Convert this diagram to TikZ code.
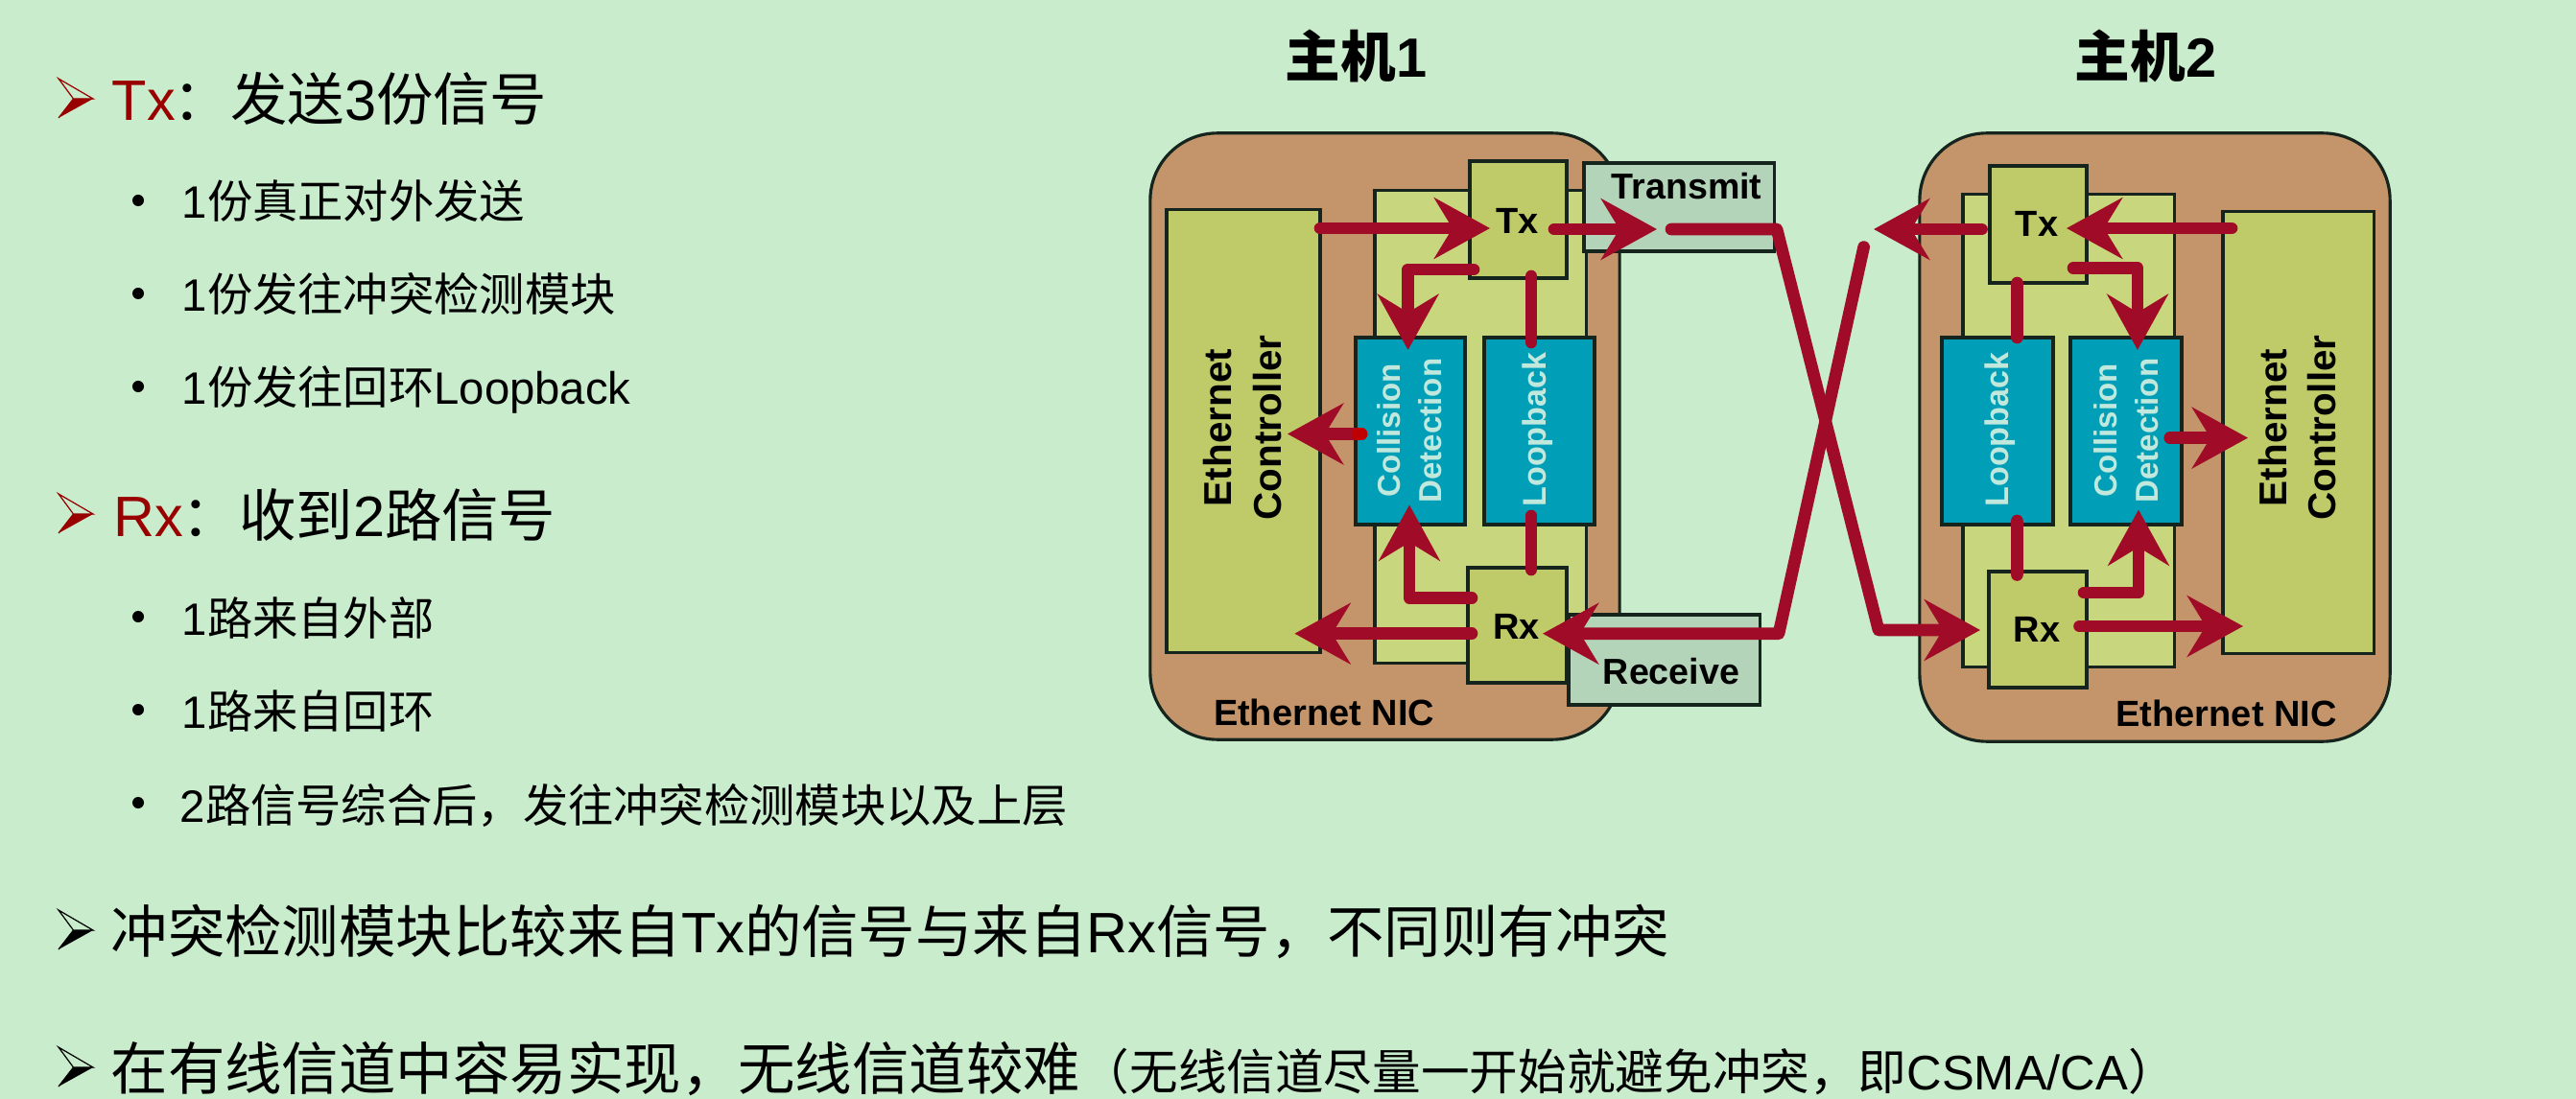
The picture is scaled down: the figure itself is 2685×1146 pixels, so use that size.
\documentclass[tikz,border=0pt]{standalone}
\usepackage{fontspec}
\setmainfont{Liberation Sans}
\newfontfamily\cjk{Noto Sans CJK SC}
\usetikzlibrary{arrows.meta}
\definecolor{bgc}{HTML}{C8ECCC}
\definecolor{nicc}{HTML}{C4956A}
\definecolor{olivec}{HTML}{BFCB68}
\definecolor{panelc}{HTML}{C8D67E}
\definecolor{bluec}{HTML}{009FB7}
\definecolor{labelc}{HTML}{C0E8DC}
\definecolor{portc}{HTML}{B4D4B9}
\definecolor{sigc}{HTML}{A00C28}
\definecolor{hotc}{HTML}{C00000}
\definecolor{edgec}{HTML}{16241E}
\definecolor{darkred}{HTML}{990000}
\tikzset{
  x=0.01cm,y=-0.01cm,
  boxx/.style={draw=edgec,line width=0.9pt,inner sep=0pt,outer sep=0pt},
  nicbox/.style={boxx,fill=nicc,rounded corners=0.7cm},
  panelbox/.style={boxx,fill=panelc},
  olivebox/.style={boxx,fill=olivec},
  bluebox/.style={boxx,fill=bluec,minimum width=1.15cm,minimum height=1.95cm},
  portbox/.style={boxx,fill=portc},
  sig/.style={draw=sigc,line width=3.6pt,line cap=round,line join=round},
  sigarrow/.style={sig,-{Stealth[length=16.5pt,width=18pt,inset=5.4pt]}},
  sighot/.style={draw=hotc,line width=3.6pt,line cap=round},
  head/.style={anchor=base west,inner sep=0pt,font=\fontsize{16.9pt}{20pt}\selectfont},
  small/.style={anchor=base west,inner sep=0pt,font=\fontsize{13.45pt}{16pt}\selectfont},
  note/.style={anchor=base west,inner sep=0pt,font=\fontsize{14.4pt}{17pt}\selectfont},
  titletext/.style={anchor=base west,inner sep=0pt,font=\fontsize{16.4pt}{19pt}\selectfont\bfseries},
  boldlabel/.style={inner sep=0pt,font=\fontsize{10.8pt}{13pt}\selectfont\bfseries},
  portlabel/.style={inner sep=0pt,font=\fontsize{10.7pt}{13pt}\selectfont\bfseries},
  ctrllabel/.style={inner sep=0pt,rotate=90,align=center,font=\fontsize{11.5pt}{14.65pt}\selectfont\bfseries},
  colllabel/.style={inner sep=0pt,rotate=90,align=center,text=labelc,font=\fontsize{9.4pt}{12.2pt}\selectfont\bfseries},
  looplabel/.style={inner sep=0pt,rotate=90,text=labelc,font=\fontsize{9.7pt}{12pt}\selectfont\bfseries},
  dotmark/.style={circle,fill=black,inner sep=0pt,minimum size=0.12cm},
  pics/pointer/.style={code={
    \fill[#1] (0,41) -- (36,21) -- (15.5,21) -- cycle;
    \draw[#1,line width=0.35pt,line join=miter] (0,0) -- (36,21) -- (15.5,21) -- cycle;
    \draw[#1,line width=0.35pt] (0,41) -- (15.5,21);
  }},
}
\newcommand\zh[1]{{\cjk #1}}
\begin{document}
\begin{tikzpicture}
\fill[bgc] (0,0) rectangle (2685,1146);
\useasboundingbox (0,0) rectangle (2685,1146);

% left text
\pic at (61,82) {pointer=darkred};
\node[head,text=darkred] (h1a) at (116,126) {Tx};
\node[head] (h1b) at (180,126) {\zh{：发送}3\zh{份信号}};
\node[dotmark] (d1) at (144,209) {};
\node[small] (t1) at (189,228) {1\zh{份真正对外发送}};
\node[dotmark] (d2) at (144,306) {};
\node[small] (t2) at (189,325) {1\zh{份发往冲突检测模块}};
\node[dotmark] (d3) at (144,403) {};
\node[small] (t3) at (189,422) {1\zh{份发往回环}Loopback};

\pic at (61,515) {pointer=darkred};
\node[head,text=darkred] (h2a) at (118,559) {Rx};
\node[head] (h2b) at (189,559) {\zh{：收到}2\zh{路信号}};
\node[dotmark] (d4) at (144,643) {};
\node[small] (t4) at (189,662) {1\zh{路来自外部}};
\node[dotmark] (d5) at (144,740) {};
\node[small] (t5) at (189,759) {1\zh{路来自回环}};
\node[dotmark] (d6) at (144,837) {};
\node[small] (t6) at (187,857) {2\zh{路信号综合后，发往冲突检测模块以及上层}};

\pic at (61,949) {pointer=black};
\node[head] (h3) at (115,993) {\zh{冲突检测模块比较来自}Tx\zh{的信号与来自}Rx\zh{信号，不同则有冲突}};
\pic at (61,1092) {pointer=black};
\node[head] (h4) at (115,1136) {\zh{在有线信道中容易实现，无线信道较难}};
\node[note] (n4) at (1126,1136) {\zh{（无线信道尽量一开始就避免冲突，即}CSMA/CA\zh{）}};

% titles
\node[titletext] (ttlA) at (1339,81) {\zh{主机}1};
\node[titletext] (ttlB) at (2162,81) {\zh{主机}2};

% host 1 boxes
\node[nicbox,minimum width=4.89cm,minimum height=6.32cm] (nicA) at (1443.5,455) {};
\node[panelbox,minimum width=2.2cm,minimum height=4.92cm] (innerA) at (1543,445) {};
\node[olivebox,minimum width=1.6cm,minimum height=4.61cm] (ctrlA) at (1296,449.5) {};
\node[olivebox,minimum width=1.01cm,minimum height=1.22cm] (txA) at (1582.5,229) {};
\node[olivebox,minimum width=1.03cm,minimum height=1.2cm] (rxA) at (1581.5,652) {};
\node[bluebox,minimum width=1.14cm] (colA) at (1470,449.5) {};
\node[bluebox] (lbA) at (1604.5,449.5) {};
\node[portbox,minimum width=1.98cm,minimum height=0.92cm] (trans) at (1750,216) {};
\node[portbox,minimum width=1.99cm,minimum height=0.94cm] (recv) at (1734.5,688) {};

% host 2 boxes
\node[nicbox,minimum width=4.9cm,minimum height=6.34cm] (nicB) at (2246,456) {};
\node[panelbox,minimum width=2.2cm,minimum height=4.92cm] (innerB) at (2156,449) {};
\node[olivebox,minimum width=1.57cm,minimum height=4.6cm] (ctrlB) at (2395.5,451) {};
\node[olivebox,minimum width=1.01cm,minimum height=1.22cm] (txB) at (2124.5,234) {};
\node[olivebox,minimum width=1.02cm,minimum height=1.21cm] (rxB) at (2124,656.5) {};
\node[bluebox,minimum width=1.16cm] (lbB) at (2082,449.5) {};
\node[bluebox,minimum width=1.16cm] (colB) at (2216,449.5) {};

% labels
\node[boldlabel] (lTxA) at (1581.5,230) {Tx};
\node[boldlabel] (lRxA) at (1580.5,653) {Rx};
\node[colllabel] (lColA) at (1469,449) {Collision\\Detection};
\node[looplabel] (lLbA) at (1603,448) {Loopback};
\node[ctrllabel] (lCtrlA) at (1295,446) {Ethernet\\Controller};
\node[portlabel] (lTrans) at (1758,194) {Transmit};
\node[portlabel] (lRecv) at (1742,700) {Receive};
\node[boldlabel] (lNicA) at (1380,743) {Ethernet NIC};
\node[boldlabel] (lTxB) at (2123,233) {Tx};
\node[boldlabel] (lRxB) at (2123,656.5) {Rx};
\node[looplabel] (lLbB) at (2084.7,448) {Loopback};
\node[colllabel] (lColB) at (2216.5,449) {Collision\\Detection};
\node[ctrllabel] (lCtrlB) at (2394.5,446) {Ethernet\\Controller};
\node[boldlabel] (lNicB) at (2320.6,744) {Ethernet NIC};

% host 1 connectors
\draw[sigarrow] ([shift={(80,-211.5)}]ctrlA.center) -- ([shift={(-29.5,9)}]txA.center);
\draw[sigarrow] ([shift={(-46.5,52)}]txA.center) -| ([shift={(-2.4,-84.5)}]colA.center);
\draw[sig] ([shift={(13.5,59)}]txA.center) -- ([shift={(-8.5,-92.5)}]lbA.center);
\draw[sig] ([shift={(-8.5,88.5)}]lbA.center) -- ([shift={(14.5,-58)}]rxA.center);
\draw[sigarrow] ([shift={(-47.5,-28.5)}]rxA.center) -| ([shift={(-1,77)}]colA.center);
\draw[sigarrow] ([shift={(-47.5,8.7)}]rxA.center) -- ([shift={(53.4,211.2)}]ctrlA.center);
\draw[sigarrow] ([shift={(-51,3)}]colA.center) -- ([shift={(46,3)}]ctrlA.center);
\draw[sighot] ([shift={(-55,3)}]colA.center) -- ([shift={(-51,3)}]colA.center);
\draw[sigarrow] ([shift={(37.5,10)}]txA.center) -- ([shift={(-23,23)}]trans.center);

% crossing lines
\draw[sigarrow] ([shift={(-8,23)}]trans.center) -- ([shift={(102,23)}]trans.center)
   -- ([shift={(-166,0.5)}]rxB.center) -- ([shift={(-60,0.5)}]rxB.center);
\draw[sigarrow] ([shift={(-303.4,-198.4)}]nicB.center) -- ([shift={(119.5,-27.3)}]recv.center)
   -- ([shift={(26.5,8.7)}]rxA.center);

% host 2 connectors
\draw[sigarrow] ([shift={(-69.5,-213)}]ctrlB.center) -- ([shift={(29.5,4)}]txB.center);
\draw[sigarrow] ([shift={(-59,5)}]txB.center) -- ([shift={(-293,-217)}]nicB.center);
\draw[sigarrow] ([shift={(36.5,45.6)}]txB.center) -| ([shift={(12,-84.5)}]colB.center);
\draw[sig] ([shift={(-22,61)}]txB.center) -- ([shift={(20.4,-97.5)}]lbB.center);
\draw[sig] ([shift={(20.4,93.5)}]lbB.center) -- ([shift={(-21.6,-57)}]rxB.center);
\draw[sigarrow] ([shift={(48,-38.5)}]rxB.center) -| ([shift={(13,82)}]colB.center);
\draw[sigarrow] ([shift={(43.5,-3.5)}]rxB.center) -- ([shift={(-57.5,202)}]ctrlB.center);
\draw[sigarrow] ([shift={(45.7,7.1)}]colB.center) -- ([shift={(-52.5,5.6)}]ctrlB.center);
\end{tikzpicture}
\end{document}
